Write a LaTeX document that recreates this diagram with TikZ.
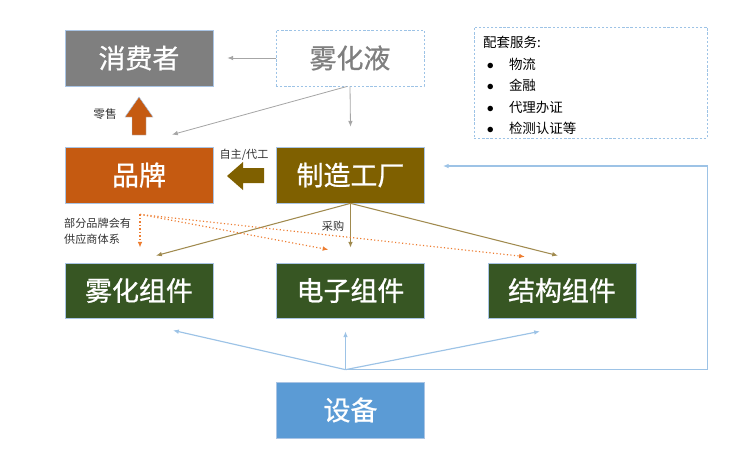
\documentclass[tikz,border=0pt]{standalone}
\usepackage{fontspec}
\newfontfamily\cjk{Noto Sans CJK SC}
\newfontfamily\cjkbox[FakeBold=0.8]{Noto Sans CJK SC}
\usetikzlibrary{arrows.meta,calc}

\definecolor{boxgray}{HTML}{7F7F7F}
\definecolor{brandorange}{HTML}{C55A11}
\definecolor{factoryolive}{HTML}{7F6000}
\definecolor{partgreen}{HTML}{375623}
\definecolor{equipblue}{HTML}{5B9BD5}
\definecolor{edgeblue}{HTML}{A9C4E4}
\definecolor{lineblue}{HTML}{9DC3E6}
\definecolor{oliveline}{HTML}{A08A4E}
\definecolor{dotorange}{HTML}{ED7D31}
\definecolor{grayline}{HTML}{A6A6A6}

\newcommand{\servitem}[1]{\hspace{3pt}\makebox[19pt][l]{$\bullet$}#1}

\begin{document}
\begin{tikzpicture}[
  font=\cjk,
  x=0.03cm, y=-0.03cm,
  block/.style={draw=edgeblue, line width=0.6pt, minimum width=4.44cm, minimum height=1.68cm, inner sep=0pt, text=white, font=\cjkbox\fontsize{23}{27}\selectfont},
  part/.style={block, fill=partgreen, minimum height=1.65cm},
  dashbox/.style={draw=lineblue, dashed, dash pattern=on 2pt off 1.5pt, line width=0.8pt, inner sep=0pt},
  lbl/.style={font=\cjk\fontsize{9.5}{12}\selectfont, text=black!80, inner sep=0pt},
  grayarrow/.style={-{Latex[length=5pt,width=4pt]}, draw=grayline, line width=0.7pt},
  olivearrow/.style={-{Latex[length=5pt,width=4pt]}, draw=oliveline, line width=0.9pt},
  dotarrow/.style={-{Latex[length=5pt,width=4pt]}, draw=dotorange, dotted, line width=1pt},
  bluearrow/.style={-{Latex[length=5pt,width=4pt]}, draw=lineblue, line width=1pt}
]
\useasboundingbox (0,0) rectangle (742,462);

% top row
\node[block, dashbox, text=boxgray, minimum width=4.44cm, minimum height=1.68cm] (liquid) at (350,58) {雾化液};
\node[block, fill=boxgray] (consumer) at (139,58) {消费者};
\node[dashbox, minimum width=6.99cm, minimum height=3.33cm] (services) at (590.5,82.5) {};
\node[anchor=north west, align=left, inner sep=0pt, font=\cjk\fontsize{11.5}{18.4}\selectfont] (servtext) at (483,36) {配套服务:\\
  \servitem{物流}\\
  \servitem{金融}\\
  \servitem{代理办证}\\
  \servitem{检测认证等}};

% middle row
\node[block, fill=brandorange] (brand) at (139,175) {品牌};
\node[block, fill=factoryolive] (factory) at (350.5,175) {制造工厂};

% parts
\node[part] (atomcomp) at (139,290.5) {雾化组件};
\node[part] (elec) at (350.5,290.5) {电子组件};
\node[part] (struct) at (562,290.5) {结构组件};

\node[block, fill=equipblue] (equip) at (350.5,410) {设备};

% labels
\node[lbl, font=\cjk\fontsize{10}{12}\selectfont] (retail) at (105,114) {零售};
\node[lbl] (oem) at (244,155) {自主/代工};
\node[lbl] (purchase) at (333,226) {采购};
\node[lbl, anchor=west, align=left, font=\cjk\fontsize{9.5}{14}\selectfont] (supply) at (64,231) {部分品牌会有\\供应商体系};

% block arrows
\filldraw[fill=brandorange, draw=edgeblue, line width=0.4pt]
  (132,135) -- (132,117) -- (125,117) -- (139,97) -- (153,117) -- (146,117) -- (146,135) -- cycle;
\fill[factoryolive]
  (264,168) -- (243,168) -- (243,162) -- (227,176) -- (243,190) -- (243,183) -- (264,183) -- cycle;

% liquid
\draw[grayarrow] (liquid.west) -- ($(consumer.east)+(14,0)$);
\draw[grayarrow] (liquid.south) -- ($(factory.north)+(0,-20)$);
\draw[grayarrow] ($(liquid.south)+(-3,0)$) -- ($(brand.north)+(33,-12)$);

% purchase
\draw[olivearrow] (factory.south) -- ($(atomcomp.north)+(17,-7)$);
\draw[olivearrow] (factory.south) -- ($(elec.north)+(0,-15)$);
\draw[olivearrow] (factory.south) -- ($(struct.north)+(-4,-7)$);

% brand supply chain
\coordinate (bs) at ($(brand.south)+(1,11)$);
\draw[dotarrow] (bs) -- ($(atomcomp.north)+(1,-15)$);
\draw[dotarrow] (bs) -- ($(elec.north)+(-22,-13)$);
\draw[dotarrow] (bs) -- ($(struct.north)+(-37,-6)$);

% equipment
\coordinate (hub) at ($(equip.north)+(-5,-12)$);
\coordinate (fb) at ($(factory.east)+(18,-9)$);
\draw[bluearrow] (hub) -- ($(atomcomp.south)+(34,12)$);
\draw[bluearrow] (hub) -- ($(elec.south)+(-5,13)$);
\draw[bluearrow] (hub) -- ($(struct.south)+(-22,13)$);
\draw[bluearrow] (hub) -- (hub -| services.east) -- (fb -| services.east) -- (fb);
\end{tikzpicture}
\end{document}
